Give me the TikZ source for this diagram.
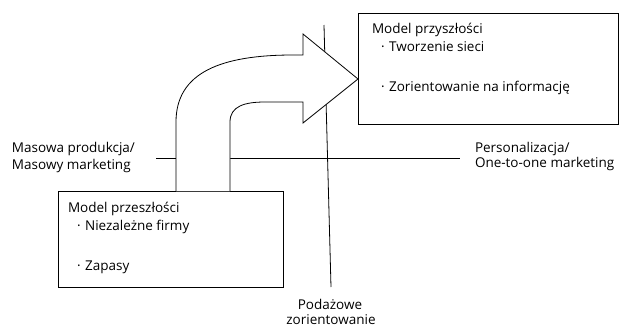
\documentclass[tikz,border=0pt]{standalone}
\usepackage{fontspec}
\setmainfont{Open Sans}
\tikzset{
  lbl/.style={inner sep=0pt, outer sep=0pt, font=\fontsize{13.5}{16}\selectfont},
  frame/.style={draw=black, line width=0.8pt, fill=white, rectangle, inner sep=0pt},
  axis/.style={draw=black, line width=0.8pt},
  bigarrow/.style={draw=black, line width=0.8pt, fill=white, line join=miter},
}
\newcommand{\itemdot}{·\hspace{4.5pt}}
\begin{document}
\begin{tikzpicture}[x=1pt, y=-1pt]
\useasboundingbox (0,0) rectangle (619,327);

% axes
\coordinate (hL) at (156,158);
\coordinate (hR) at (460,158);
\coordinate (vT) at (324,25);
\coordinate (vB) at (331,287);
\draw[axis] (hL) -- (hR);
\draw[axis] (vT) -- (vB);

% boxes
\node[frame, minimum width=260pt, minimum height=111pt] (future) at (488,68.5) {};
\node[frame, minimum width=225pt, minimum height=96pt] (past) at (170.5,239) {};

% curved arrow from the past model to the future model
\coordinate (aL) at (176,191);
\coordinate (aR) at (230,191);
\coordinate (tip) at (358,79);
\fill[white] (aL) -- (176,122) .. controls (176,72) and (222,55) .. (293,55) -- (303,55) -- (303,34)
  -- (tip) -- (303,123) -- (303,102) -- (265,102) .. controls (245,102) and (230,106) .. (230,122) -- (aR) -- cycle;
\draw[bigarrow] (aL) -- (176,122) .. controls (176,72) and (222,55) .. (293,55) -- (303,55) -- (303,34)
  -- (tip) -- (303,123) -- (303,102) -- (265,102) .. controls (245,102) and (230,106) .. (230,122) -- (aR);

% texts of the future model
\node[lbl, anchor=base west] (fT) at (372,33) {Model przyszłości};
\node[lbl, anchor=base west] (fA) at (381,51.5) {\itemdot Tworzenie sieci};
\node[lbl, anchor=base west] (fB) at (381,91) {\itemdot Zorientowanie na informację};

% texts of the past model
\node[lbl, anchor=base west] (pT) at (68,212) {Model przeszłości};
\node[lbl, anchor=base west] (pA) at (77,230) {\itemdot Niezależne firmy};
\node[lbl, anchor=base west] (pB) at (77,270) {\itemdot Zapasy};

% axis labels
\node[lbl, anchor=base west] (mA) at (12,152) {Masowa produkcja/};
\node[lbl, anchor=base west] (mB) at (12,169) {Masowy marketing};
\node[lbl, anchor=base west] (rA) at (475,152) {Personalizacja/};
\node[lbl, anchor=base west] (rB) at (475,167) {One-to-one marketing};
\node[lbl, anchor=base] (sA) at (330,309) {Podażowe};
\node[lbl, anchor=base] (sB) at (331,324) {zorientowanie};
\end{tikzpicture}
\end{document}
